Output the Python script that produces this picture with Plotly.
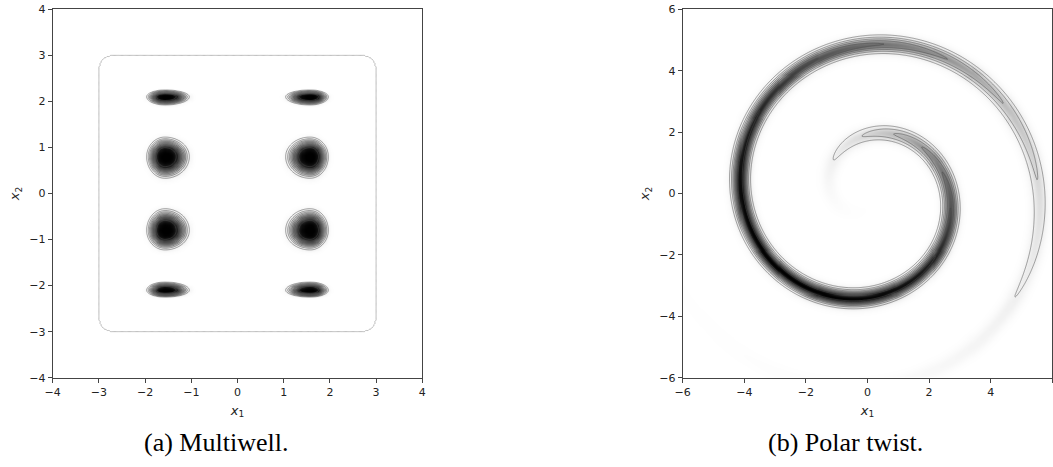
import numpy as np
import plotly.graph_objects as go

# Multiwell: well centres and flat-topped widths (inner side / outer side)
well_x1 = [-1.57, 1.57]
well_x1_w_in = [0.36, 0.36]
well_x1_w_out = [0.27, 0.27]
well_x2 = [-2.1, -0.8, 0.8, 2.1]
well_x2_w_in = [0.12, 0.32, 0.32, 0.12]
well_x2_w_out = [0.10, 0.29, 0.29, 0.10]
box_half = 3.0

# Polar twist: spiral arm parameters
spiral_start_deg = 135.0     # angle of inner tip
spiral_r0 = 1.56             # radius at inner tip
spiral_growth = 0.0081       # radius gained per degree (clockwise)
spiral_width = 0.17
spiral_peak_deg = 265.0
spiral_spread_deg = 150.0

greys = [[0, "#ffffff"], [0.125, "#f0f0f0"], [0.25, "#d9d9d9"], [0.375, "#bdbdbd"],
         [0.5, "#969696"], [0.625, "#737373"], [0.75, "#525252"], [0.875, "#252525"],
         [1, "#000000"]]


def side_width(x, c, w_in, w_out):
    return np.where(np.sign(x - c) == -np.sign(c), w_in, w_out)


# multiwell density (flat-topped elliptical wells, zero outside the rounded box)
g1 = np.linspace(-4, 4, 321)
X1, X2 = np.meshgrid(g1, g1)
z_mw = np.zeros_like(X1)
for c1, a1, b1 in zip(well_x1, well_x1_w_in, well_x1_w_out):
    for c2, a2, b2 in zip(well_x2, well_x2_w_in, well_x2_w_out):
        rho2 = ((X1 - c1) / side_width(X1, c1, a1, b1)) ** 2 + ((X2 - c2) / side_width(X2, c2, a2, b2)) ** 2
        z_mw += np.exp(-0.5 * rho2 ** 2)
s = np.abs(X1 / box_half) ** 22 + np.abs(X2 / box_half) ** 22
z_mw = (z_mw + 1e-4) * (s < 1)
z_mw = np.round(z_mw / z_mw.max(), 5)

# polar twist density
g2 = np.linspace(-6, 6, 361)
Y1, Y2 = np.meshgrid(g2, g2)
R = np.hypot(Y1, Y2)
PHI = np.degrees(np.arctan2(Y2, Y1))
base = np.mod(spiral_start_deg - PHI, 360)
z_pt = np.zeros_like(R)
for k in range(-1, 3):
    th = base + 360 * k
    Rc = spiral_r0 + spiral_growth * th
    amp = np.exp(-0.5 * np.abs((th - spiral_peak_deg) / spiral_spread_deg) ** 2.5)
    z_pt += np.where(Rc > 0, amp * np.exp(-(R - Rc) ** 2 / (2 * spiral_width ** 2)), 0)
z_pt = np.round(z_pt / z_pt.max(), 5)

line_grey = [[0, "#4a4a4a"], [1, "#4a4a4a"]]
fig = go.Figure()
fig.add_trace(go.Heatmap(x=g1, y=g1, z=z_mw, colorscale=greys, zmin=0, zmax=1,
                         zsmooth="best", showscale=False, xaxis="x", yaxis="y"))
fig.add_trace(go.Contour(x=g1, y=g1, z=z_mw, contours=dict(coloring="lines", start=0.1, end=0.95, size=0.1),
                         colorscale=line_grey, line=dict(width=0.5), showscale=False, xaxis="x", yaxis="y"))
fig.add_trace(go.Contour(x=g1, y=g1, z=z_mw, contours=dict(coloring="lines", start=1e-6, end=1e-6, size=1),
                         colorscale=[[0, "#a8a8a8"], [1, "#a8a8a8"]], line=dict(width=0.8),
                         showscale=False, xaxis="x", yaxis="y"))
fig.add_trace(go.Heatmap(x=g2, y=g2, z=z_pt, colorscale=greys, zmin=0, zmax=1,
                         zsmooth="best", showscale=False, xaxis="x2", yaxis="y2"))
fig.add_trace(go.Contour(x=g2, y=g2, z=z_pt, contours=dict(coloring="lines", start=0.125, end=0.95, size=0.125),
                         colorscale=line_grey, line=dict(width=0.5), showscale=False, xaxis="x2", yaxis="y2"))

W, H = 1053, 467
px = lambda v: v / W
py = lambda v: 1 - v / H

ax = dict(showgrid=False, zeroline=False, showline=True, mirror=True, linecolor="#444", linewidth=1,
          automargin=False, ticks="outside", ticklen=4, tickcolor="#444",
          tickfont=dict(family="DejaVu Sans", size=11, color="#222"),
          title_font=dict(family="DejaVu Sans", size=13, color="#222"))
t4 = [-4, -3, -2, -1, 0, 1, 2, 3, 4]
t6 = [-6, -4, -2, 0, 2, 4, 6]
lab = lambda v: [str(t).replace("-", "\u2212") for t in v]
fig.update_layout(
    width=W, height=H, margin=dict(l=0, r=0, t=0, b=0, autoexpand=False),
    paper_bgcolor="white", plot_bgcolor="white", showlegend=False,
    xaxis=dict(ax, domain=[px(52.7), px(422.3)], range=[-4, 4], tickvals=t4, ticktext=lab(t4),
               title_text="<i>x</i><sub>1</sub>", title_standoff=7, anchor="y"),
    yaxis=dict(ax, domain=[py(377.7), py(9.3)], range=[-4, 4], tickvals=t4, ticktext=lab(t4),
               title_text="<i>x</i><sub>2</sub>", title_standoff=6, anchor="x"),
    xaxis2=dict(ax, domain=[px(682.7), px(1052.3)], range=[-6, 6], tickvals=t6, ticktext=lab(t6),
                title_text="<i>x</i><sub>1</sub>", title_standoff=7, anchor="y2"),
    yaxis2=dict(ax, domain=[py(377.7), py(9.3)], range=[-6, 6], tickvals=t6, ticktext=lab(t6),
                title_text="<i>x</i><sub>2</sub>", title_standoff=6, anchor="x2"),
)
cap = dict(family="Liberation Serif", size=26, color="black")
fig.add_annotation(text="(a) Multiwell.", x=px(215.5), y=py(442), xref="paper", yref="paper",
                   xanchor="center", yanchor="middle", showarrow=False, font=cap)
fig.add_annotation(text="(b) Polar twist.", x=px(845.5), y=py(442), xref="paper", yref="paper",
                   xanchor="center", yanchor="middle", showarrow=False, font=cap)

# drop the browser's default 8px body margin so the figure fills the window exactly
fig.write_html("out.html", config={"displayModeBar": False},
               post_script="document.body.style.margin='0px';")
